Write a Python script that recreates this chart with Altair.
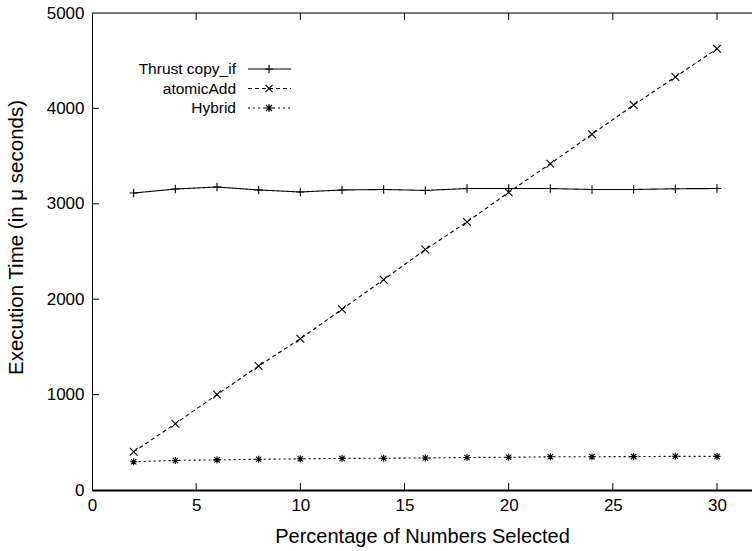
import altair as alt
import pandas as pd

# ---- data ----
pct = [2, 4, 6, 8, 10, 12, 14, 16, 18, 20, 22, 24, 26, 28, 30]
thrust = [3113, 3155, 3176, 3145, 3124, 3145, 3150, 3140, 3160, 3160, 3160, 3150, 3150, 3158, 3160]
atomic = [400, 695, 1000, 1300, 1585, 1895, 2205, 2520, 2810, 3120, 3420, 3730, 4035, 4330, 4625]
hybrid = [296, 310, 316, 322, 327, 331, 333, 336, 341, 343, 348, 349, 350, 353, 352]
series_names = ["Thrust copy_if", "atomicAdd", "Hybrid"]
x_ticks = [0, 5, 10, 15, 20, 25, 30]
y_ticks = [0, 1000, 2000, 3000, 4000, 5000]

rows = []
for name, vals in zip(series_names, [thrust, atomic, hybrid]):
    for x, v in zip(pct, vals):
        rows.append({"pct": x, "time": v, "series": name})
df = pd.DataFrame(rows)

W, H = 660, 477
FONT = "Liberation Sans"
PLUS = "M-1,0L1,0M0,-1L0,1"
CROSS = "M-1,-1L1,1M-1,1L1,-1"
STAR = "M-1,0L1,0M0,-1L0,1M-0.75,-0.75L0.75,0.75M-0.75,0.75L0.75,-0.75"
shapes = [PLUS, CROSS, STAR]
dashes = [[1, 0], [4, 3], [2, 3]]
sizes = [70, 50, 64]

XT = "Percentage of Numbers Selected"
YT = "Execution Time (in μ seconds)"

xscale = alt.Scale(domain=[0, 31.68], nice=False, zero=False)
yscale = alt.Scale(domain=[0, 5000], nice=False)

x_axis = alt.Axis(
    title=XT, values=x_ticks, format="d",
    ticks=False, tickSize=0, labelPadding=7, labelFlush=False, labelOverlap=False,
    labelFontSize=17, labelColor="black", labelFont=FONT,
    domainColor="black", domainWidth=2, grid=False,
    titleFontSize=20, titleFont=FONT, titleFontWeight="normal", titleColor="black",
    titleX=330, titleY=36, titleBaseline="top")
y_axis = alt.Axis(
    title=YT, values=y_ticks, format="d",
    ticks=False, tickSize=0, labelPadding=8, labelFlush=False, labelOverlap=False,
    labelFontSize=17, labelColor="black", labelFont=FONT,
    domainColor="black", domainWidth=1, grid=False,
    titleFontSize=20.5, titleFont=FONT, titleFontWeight="normal", titleColor="black",
    titleX=-66, titleY=224, titleAngle=-90, titleBaseline="bottom")


def X(field):
    return alt.X(field, scale=xscale, axis=x_axis, title=XT)


def Y(field):
    return alt.Y(field, scale=yscale, axis=y_axis, title=YT)


lines = alt.Chart(df).mark_line(color="black", strokeWidth=1.1).encode(
    x=X("pct:Q"), y=Y("time:Q"),
    strokeDash=alt.StrokeDash("series:N", scale=alt.Scale(domain=series_names, range=dashes), legend=None),
    detail="series:N",
)
points = alt.Chart(df).mark_point(color="black", filled=False, strokeWidth=1.1, opacity=1).encode(
    x=X("pct:Q"), y=Y("time:Q"),
    shape=alt.Shape("series:N", scale=alt.Scale(domain=series_names, range=shapes), legend=None),
    size=alt.Size("series:N", scale=alt.Scale(domain=series_names, range=sizes), legend=None),
)

xt = pd.DataFrame({"pct": x_ticks[1:]})
yt = pd.DataFrame({"time": y_ticks[1:-1]})
bottom_ticks = alt.Chart(xt).mark_rule(color="black", strokeWidth=1).encode(
    x=X("pct:Q"), y=alt.value(H), y2=alt.value(H - 7))
top_ticks = alt.Chart(xt).mark_rule(color="black", strokeWidth=1).encode(
    x=X("pct:Q"), y=alt.value(0), y2=alt.value(7))
left_ticks = alt.Chart(yt).mark_rule(color="black", strokeWidth=1).encode(
    y=Y("time:Q"), x=alt.value(0), x2=alt.value(7))
top_border = alt.Chart(pd.DataFrame({"a": [0]})).mark_rule(color="black", strokeWidth=1).encode(
    x=alt.value(0), x2=alt.value(W), y=alt.value(0))

legend_layers = []
row_y = [56, 75.5, 95]
for name, shp, dsh, sz, ry in zip(series_names, shapes, dashes, sizes, row_y):
    one = pd.DataFrame({"label": [name]})
    legend_layers.append(alt.Chart(one).mark_text(
        align="right", baseline="middle", fontSize=15.5, font=FONT, color="black").encode(
        x=alt.value(144), y=alt.value(ry), text="label:N"))
    legend_layers.append(alt.Chart(one).mark_rule(
        color="black", strokeWidth=1.1, strokeDash=dsh).encode(
        x=alt.value(156), x2=alt.value(199), y=alt.value(ry)))
    legend_layers.append(alt.Chart(one).mark_point(
        shape=shp, size=sz, filled=False, color="black", strokeWidth=1.1, opacity=1).encode(
        x=alt.value(177), y=alt.value(ry)))

chart = alt.layer(
    lines, points, bottom_ticks, top_ticks, left_ticks, top_border, *legend_layers
).properties(
    width=W, height=H,
    autosize=alt.AutoSizeParams(type="none"),
    padding={"left": 92, "top": 13, "right": 0, "bottom": 61},
).configure_view(stroke=None).configure(font=FONT, background="white")

chart.save("out.html", embed_options={"renderer": "svg", "actions": False})
